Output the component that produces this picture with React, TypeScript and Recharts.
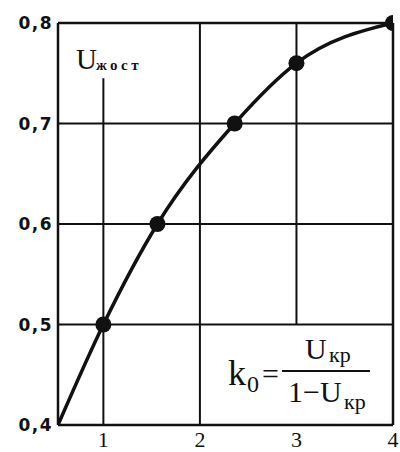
import React from 'react';
import { LineChart, Line, XAxis, YAxis, ReferenceLine } from 'recharts';

// curve through the measured points; the first one is the curve start, no marker
const curveX = [0.53, 1, 1.56, 2.36, 3, 4];
const curveY = [0.4, 0.5, 0.6, 0.7, 0.76, 0.8];
const hasMarker = [false, true, true, true, true, true];

const xTicks = [1, 2, 3, 4];
const yTicks = [0.4, 0.5, 0.6, 0.7, 0.8];
const yTickLabels = ['0,4', '0,5', '0,6', '0,7', '0,8'];

// grid: horizontal lines go full width, vertical ones stop at the annotations
const hGrid = [0.5, 0.6, 0.7];
const vGridX = [1, 2, 3];
const vGridFrom = [0.4, 0.4, 0.5];
const vGridTo = [0.745, 0.8, 0.8];

const data = curveX.map((x, i) => ({ x, y: curveY[i], marker: hasMarker[i] }));

const INK = '#111';
const SERIF = '"Liberation Serif", "DejaVu Serif", serif';

const renderDot = (props: any) => {
  const { cx, cy, index } = props;
  if (!data[index] || !data[index].marker) return <g key={`dot-${index}`} />;
  return <circle key={`dot-${index}`} cx={cx} cy={cy} r={8} fill={INK} />;
};

const formatY = (v: number) => {
  const i = yTicks.indexOf(v);
  return i >= 0 ? yTickLabels[i] : String(v).replace('.', ',');
};

export default function App() {
  return (
    <div style={{ position: 'absolute', left: 0, top: 0, width: 400, height: 452, background: '#fff' }}>
      <LineChart
        width={400}
        height={452}
        data={data}
        margin={{ top: 23, right: 7, bottom: 0, left: 0 }}
      >
        <XAxis
          dataKey="x"
          type="number"
          domain={[0.53, 4]}
          ticks={xTicks}
          allowDataOverflow
          height={27}
          tickLine={false}
          tickSize={4}
          axisLine={{ stroke: INK, strokeWidth: 2.5 }}
          tick={{ fontFamily: SERIF, fontSize: 22, fill: INK }}
        />
        <YAxis
          type="number"
          domain={[0.4, 0.8]}
          ticks={yTicks}
          width={58}
          tickLine={false}
          tickSize={3}
          axisLine={{ stroke: INK, strokeWidth: 2.5 }}
          tickFormatter={formatY}
          tick={{ fontFamily: '"DejaVu Sans", sans-serif', fontWeight: 'bold', fontSize: 17, fill: INK, letterSpacing: 1.5 }}
        />
        {hGrid.map((y) => (
          <ReferenceLine key={`h-${y}`} y={y} stroke={INK} strokeWidth={2} ifOverflow="visible" />
        ))}
        {vGridX.map((x, i) => (
          <ReferenceLine
            key={`v-${x}`}
            segment={[{ x, y: vGridFrom[i] }, { x, y: vGridTo[i] }]}
            stroke={INK}
            strokeWidth={2}
            ifOverflow="visible"
          />
        ))}
        {/* frame top and right */}
        <ReferenceLine y={0.8} stroke={INK} strokeWidth={2.5} ifOverflow="visible" />
        <ReferenceLine x={4} stroke={INK} strokeWidth={2.5} ifOverflow="visible" />
        <Line
          dataKey="y"
          type="monotone"
          stroke={INK}
          strokeWidth={3.5}
          dot={renderDot}
          activeDot={false}
          isAnimationActive={false}
        />
      </LineChart>
      <svg
        width={400}
        height={452}
        style={{ position: 'absolute', left: 0, top: 0, pointerEvents: 'none' }}
      >
        <g fill={INK} fontFamily={SERIF}>
          {/* axis name */}
          <text x={76} y={69} fontSize={29}>U</text>
          <text x={96} y={70} fontSize={15} fontWeight="bold" letterSpacing={3.5}>жост</text>
          {/* formula */}
          <text x={228} y={385} fontSize={36}>k</text>
          <text x={247} y={392} fontSize={24}>0</text>
          <text x={262} y={384} fontSize={30}>=</text>
          <text x={305} y={359} fontSize={30}>U</text>
          <text x={329} y={362} fontSize={22}>кр</text>
          <line x1={282} y1={371} x2={370} y2={371} stroke={INK} strokeWidth={2} />
          <text x={288} y={402} fontSize={30}>1−U</text>
          <text x={344} y={409} fontSize={22}>кр</text>
        </g>
      </svg>
    </div>
  );
}
